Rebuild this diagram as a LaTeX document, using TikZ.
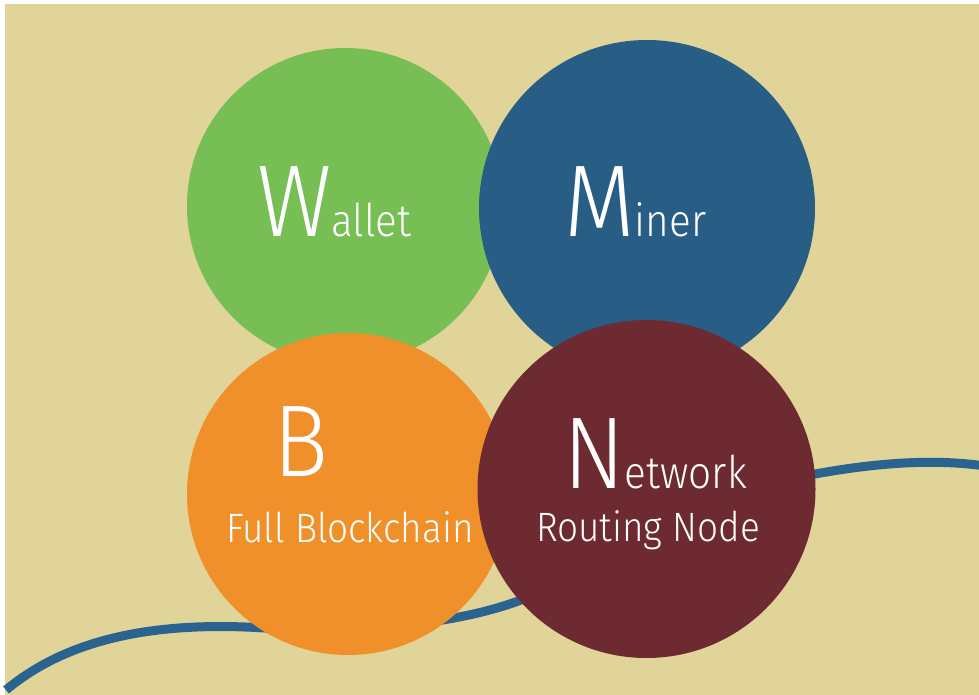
\documentclass[tikz,border=0pt]{standalone}
\usepackage{graphicx}
\usepackage{fontspec}
\setmainfont{Fira Sans}[UprightFont=* Light]
\definecolor{bgbeige}{HTML}{E0D498}
\definecolor{cgreen}{HTML}{77BE55}
\definecolor{cblue}{HTML}{285E86}
\definecolor{corange}{HTML}{F0902A}
\definecolor{cred}{HTML}{6E2A31}
\definecolor{cwave}{HTML}{2A6390}
\tikzset{
  bubble/.style={circle, inner sep=0pt, draw=none},
  lbl/.style={text=white, inner sep=0pt, anchor=base west},
}
\newcommand{\BigLet}[1]{{\fontsize{102}{102}\selectfont #1}}
\newcommand{\SmlTxt}[1]{{\fontsize{45}{45}\selectfont #1}}
\newcommand{\SubTxt}[1]{{\fontsize{41}{41}\selectfont #1}}
\newcommand{\Narrow}[1]{\scalebox{0.9}[1]{#1}}
\begin{document}
\begin{tikzpicture}[x=1pt,y=-1pt]
\useasboundingbox (0,0) rectangle (979,695);
\fill[white] (0,0) rectangle (979,695);
\fill[bgbeige] (5,4) rectangle (979,695);
% brush wave
\draw[cwave, line width=9pt] (6,690) .. controls (60,645) and (140,620) .. (265,628)
  .. controls (360,633) and (470,625) .. (540,592)
  .. controls (640,540) and (740,485) .. (815,474)
  .. controls (870,464) and (930,458) .. (985,466);
% circles
\node[bubble, fill=cgreen, minimum size=316pt] (wallet) at (345,206) {};
\node[bubble, fill=cblue, minimum size=336pt] (miner) at (647,208) {};
\node[bubble, fill=corange, minimum size=322pt] (block) at (348,494) {};
\node[bubble, fill=cred, minimum size=338pt] (net) at (646.5,489) {};
% labels
\node[lbl] (wlbl) at (257,236) {\Narrow{\BigLet{W}\SmlTxt{allet}}};
\node[lbl] (mlbl) at (564,236) {\Narrow{\BigLet{M}\SmlTxt{iner}}};
\node[lbl] (blbl) at (273,476) {\Narrow{\BigLet{B}}};
\node[lbl] (bsub) at (226,542) {\Narrow{\SubTxt{Full Blockchain}}};
\node[lbl] (nlbl) at (563,488) {\Narrow{\BigLet{N}\SmlTxt{etwork}}};
\node[lbl] (nsub) at (536,541) {\Narrow{\SubTxt{Routing Node}}};
\end{tikzpicture}
\end{document}
